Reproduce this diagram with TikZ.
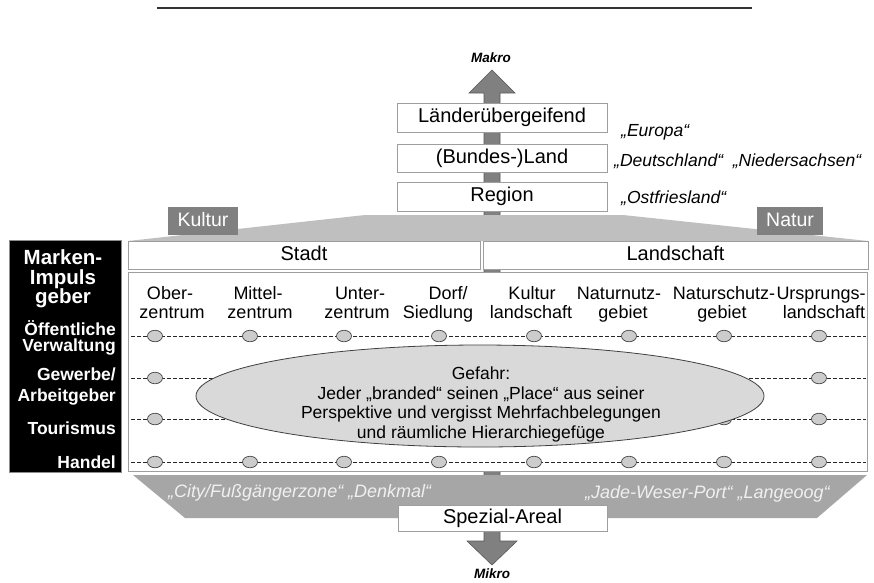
\documentclass[tikz,border=0pt]{standalone}
\usepackage{fontspec}
\setmainfont{Liberation Sans}
\usetikzlibrary{shapes.geometric}
\begin{document}
\begin{tikzpicture}[x=1pt,y=-1pt,
  wbox/.style={draw=black!38, fill=white, line width=0.9pt, inner sep=0pt, text height=14.5pt, text depth=4pt, font=\fontsize{20}{22}\selectfont},
  gbox/.style={fill=black!50, text=white, inner sep=0pt, text height=14pt, text depth=3pt, font=\fontsize{19.5}{22}\selectfont},
  col/.style={font=\fontsize{18}{20}\selectfont, inner sep=0pt, anchor=base},
  rowlbl/.style={font=\bfseries\fontsize{17.5}{19}\selectfont, text=white, anchor=base east, inner sep=0pt},
  headlbl/.style={font=\bfseries\fontsize{20.5}{22}\selectfont, text=white, anchor=base, inner sep=0pt},
  dotnode/.style={ellipse, draw=black!72, fill=black!20, minimum width=15pt, minimum height=11.5pt, inner sep=0pt, line width=0.7pt},
  ex/.style={font=\itshape\fontsize{17.5}{19}\selectfont, anchor=base west, inner sep=0pt},
  bx/.style={font=\itshape\fontsize{18}{20}\selectfont, text=white!94!black, anchor=base west, inner sep=0pt},
  arrowshape/.style={fill=black!50, draw=black!65, line width=0.6pt},
  scalelbl/.style={font=\bfseries\itshape\fontsize{13.5}{15}\selectfont, inner sep=0pt},
  rowline/.style={dash pattern=on 3.5pt off 2.5pt, draw=black!85, line width=0.75pt}
]
\useasboundingbox[fill=white] (0,0) rectangle (874,582);

% top rule
\draw[black!80, line width=2.5pt] (157,8) -- (752,8);

% central arrow (behind everything)
\draw[arrowshape] (484,93) -- (469,93) -- (492,70) -- (515,93) -- (500,93) -- (500,541)
  -- (517,541) -- (492,565) -- (467,541) -- (484,541) -- cycle;
\node[scalelbl] (makro) at (491,58) {Makro};
\node[scalelbl] (mikro) at (492,574) {Mikro};

% upper levels
\node[wbox, minimum width=210pt, minimum height=29pt] (laender) at (502,117.5) {Länderübergeifend};
\node[wbox, minimum width=210pt, minimum height=28pt] (bundes) at (502,158) {(Bundes-)Land};
\node[wbox, minimum width=210pt, minimum height=29pt] (region) at (502,196.5) {Region};
\node[ex] (europa) at (621,136) {„Europa“};
\node[ex] (deutsch) at (614,166) {„Deutschland“\ \ „Niedersachsen“};
\node[ex] (ostfr) at (621,203) {„Ostfriesland“};

% fan
\fill[black!25] (128,241) -- (365,215) -- (623,215) -- (868,241) -- cycle;
\node[gbox, minimum width=70pt, minimum height=28pt] (kultur) at (203,221) {Kultur};
\node[gbox, minimum width=66pt, minimum height=28pt] (natur) at (790,221) {Natur};

\node[wbox, minimum width=352pt, minimum height=28pt] (stadt) at (304,255) {Stadt};
\node[wbox, minimum width=385pt, minimum height=28pt] (landschaft) at (675.5,255) {Landschaft};

% grid box
\node[draw=black!38, fill=white, line width=1pt, minimum width=739pt, minimum height=199pt, inner sep=0pt] (grid) at (497.5,371.5) {};

% bottom band
\fill[black!35] (133,475) -- (867,475) -- (817,518) -- (185,518) -- cycle;
\node[bx] (city) at (168,497.5) {„City/Fußgängerzone“ „Denkmal“};
\node[bx] (jade) at (585,498) {„Jade-Weser-Port“ „Langeoog“};
\node[wbox, minimum width=209pt, minimum height=26pt] (spezial) at (502.5,518) {Spezial-Areal};

% column labels
\node[col] (c1a) at (170,299) {Ober-};
\node[col] (c1b) at (172,318) {zentrum};
\node[col] (c2a) at (258,299) {Mittel-};
\node[col] (c2b) at (260,318) {zentrum};
\node[col] (c3a) at (360,299) {Unter-};
\node[col] (c3b) at (357,318) {zentrum};
\node[col] (c4a) at (448,299) {Dorf/};
\node[col] (c4b) at (438,318) {Siedlung};
\node[col] (c5a) at (532,299) {Kultur};
\node[col] (c5b) at (531,318) {landschaft};
\node[col] (c6a) at (619,299) {Naturnutz-};
\node[col] (c6b) at (623,318) {gebiet};
\node[col] (c7a) at (724,299) {Naturschutz-};
\node[col] (c7b) at (722,318) {gebiet};
\node[col] (c8a) at (821,299) {Ursprungs-};
\node[col] (c8b) at (824,318) {landschaft};

% rows of dots
\foreach \r/\yy in {1/336,2/378,3/419,4/462}{
  \coordinate (rl\r) at (131,\yy);
  \coordinate (rr\r) at (866,\yy);
  \draw[rowline] (rl\r) -- (rr\r);
  \foreach \c/\xx in {1/155,2/250,3/344,4/439,5/534,6/629,7/724,8/819}{
    \node[dotnode] (d\r\c) at (\xx,\yy) {};
  }
}

% danger ellipse
\node[ellipse, draw=black!75, fill=black!15, line width=0.8pt, minimum width=568pt, minimum height=102pt, inner sep=0pt] (gefahr) at (480,396) {};
\node[align=center, inner sep=0pt, font=\fontsize{17.5}{19.7}\selectfont] (gefahrtxt) at (481,404.5)
  {Gefahr:\\Jeder „branded“ seinen „Place“ aus seiner\\Perspektive und vergisst Mehrfachbelegungen\\und räumliche Hierarchiegefüge};

% black box with actors
\node[fill=black, draw=black!45, line width=0.8pt, minimum width=112pt, minimum height=232pt, inner sep=0pt] (actors) at (65,356) {};
\node[headlbl] (h1) at (63,264) {Marken-};
\node[headlbl] (h2) at (63,284) {Impuls};
\node[headlbl] (h3) at (63,303) {geber};
\node[rowlbl] (a1) at (116,335) {Öffentliche};
\node[rowlbl] (a2) at (116,351) {Verwaltung};
\node[rowlbl] (a3) at (116,380) {Gewerbe/};
\node[rowlbl] (a4) at (116,401) {Arbeitgeber};
\node[rowlbl] (a5) at (116,434) {Tourismus};
\node[rowlbl] (a6) at (116,468) {Handel};
\end{tikzpicture}
\end{document}
